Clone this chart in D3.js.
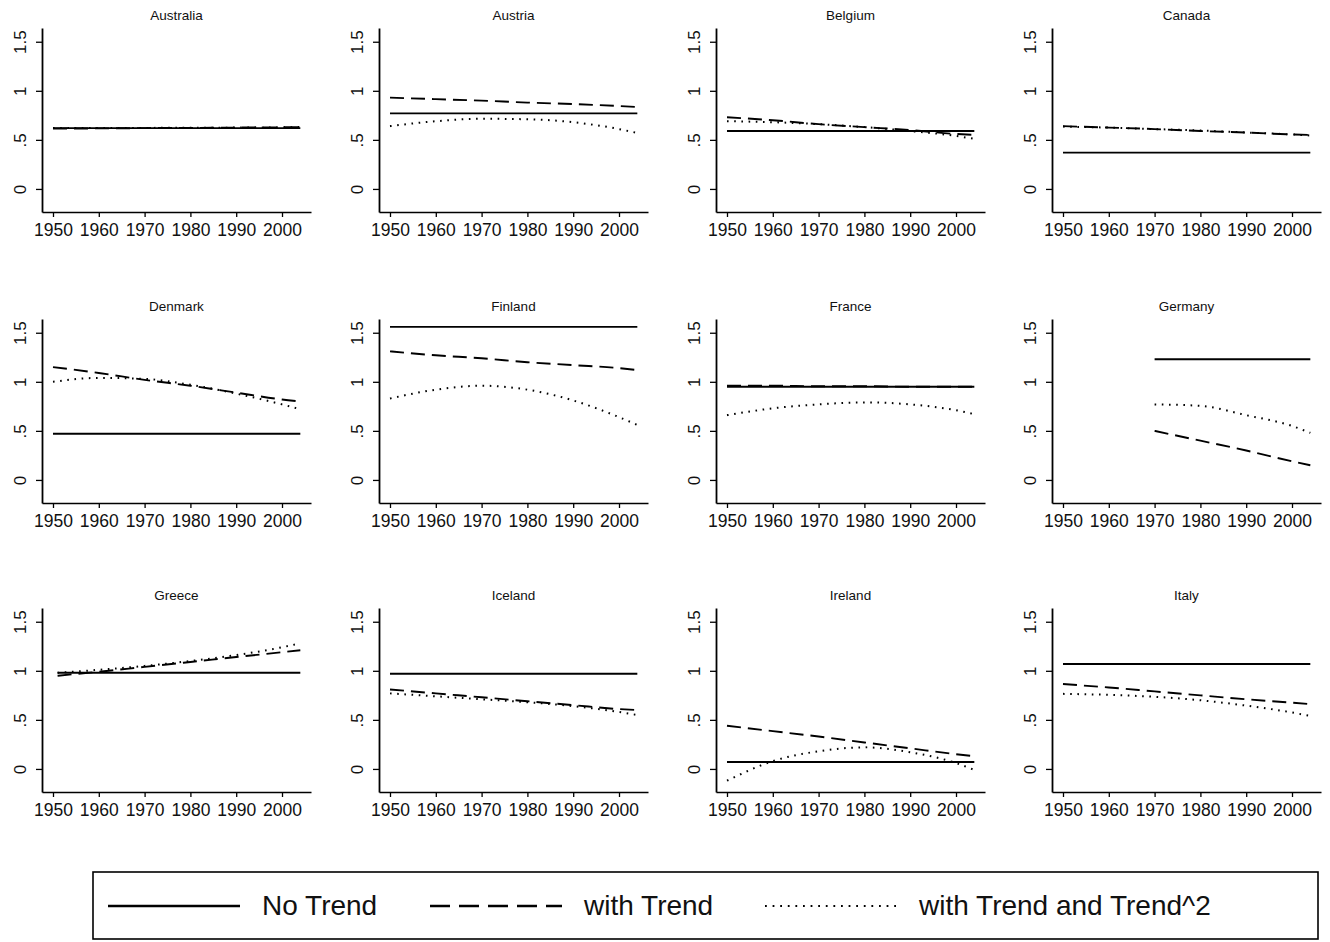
<!DOCTYPE html>
<html>
<head>
<meta charset="utf-8">
<script src="https://cdn.jsdelivr.net/npm/d3@7"></script>
<style>
  body { margin: 0; background: #fff; }
  svg { display: block; font-family: "Liberation Sans", Arial, Helvetica, sans-serif; }
</style>
</head>
<body>
<div id="chart"></div>
<script>
//panels
const countries = ["Australia", "Austria", "Belgium", "Canada",
  "Denmark", "Finland", "France", "Germany",
  "Greece", "Iceland", "Ireland", "Italy"];

//first year of each country's series
const startYears = [1950, 1950, 1950, 1950, 1950, 1950, 1950, 1970, 1951, 1950, 1950, 1950];
const baseYears = [1950, 1960, 1970, 1980, 1990, 2000, 2004];

//No Trend (flat)
const noTrend = [0.62, 0.77, 0.59, 0.37, 0.47, 1.56, 0.95, 1.23, 0.98, 0.97, 0.07, 1.07];

//with Trend
const withTrend = [
  [0.615, 0.617, 0.62, 0.622, 0.625, 0.628, 0.63],
  [0.93, 0.915, 0.90, 0.88, 0.865, 0.845, 0.835],
  [0.73, 0.70, 0.66, 0.63, 0.60, 0.56, 0.55],
  [0.64, 0.625, 0.61, 0.59, 0.575, 0.555, 0.55],
  [1.15, 1.09, 1.02, 0.96, 0.89, 0.82, 0.80],
  [1.31, 1.27, 1.24, 1.20, 1.17, 1.14, 1.12],
  [0.96, 0.96, 0.955, 0.955, 0.95, 0.95, 0.95],
  [0.50, 0.40, 0.30, 0.19, 0.15],
  [0.95, 0.99, 1.04, 1.09, 1.14, 1.19, 1.21],
  [0.81, 0.77, 0.73, 0.69, 0.65, 0.61, 0.60],
  [0.44, 0.385, 0.33, 0.27, 0.21, 0.15, 0.13],
  [0.865, 0.83, 0.79, 0.75, 0.71, 0.675, 0.66],
];

//with Trend and Trend^2
const withTrendSq = [
  [0.62, 0.62, 0.622, 0.623, 0.625, 0.628, 0.632],
  [0.64, 0.69, 0.715, 0.71, 0.68, 0.61, 0.57],
  [0.69, 0.68, 0.66, 0.63, 0.59, 0.54, 0.51],
  [0.635, 0.625, 0.61, 0.595, 0.575, 0.555, 0.545],
  [1.00, 1.04, 1.03, 0.97, 0.88, 0.77, 0.72],
  [0.83, 0.92, 0.96, 0.92, 0.81, 0.64, 0.56],
  [0.66, 0.73, 0.77, 0.79, 0.77, 0.71, 0.67],
  [0.77, 0.755, 0.66, 0.55, 0.48],
  [0.98, 1.01, 1.05, 1.10, 1.16, 1.24, 1.28],
  [0.77, 0.74, 0.71, 0.68, 0.64, 0.58, 0.55],
  [-0.12, 0.08, 0.18, 0.22, 0.17, 0.06, -0.01],
  [0.765, 0.755, 0.735, 0.70, 0.645, 0.575, 0.54],
];

const xTicks = [1950, 1960, 1970, 1980, 1990, 2000];
const yTicks = [0, 0.5, 1, 1.5];
const legendLabels = ["No Trend", "with Trend", "with Trend and Trend^2"];

//size
const width = 1330;
const height = 942;
const colLeft = [42, 379, 716, 1052];
const rowTop = [28, 319, 608];
const plotW = 269;
const plotH = 184;

const dashes = [null, "14,7", "1.6,5.6"];

const svg = d3.select("#chart").append("svg")
  .attr("width", width)
  .attr("height", height);

svg.append("rect").attr("width", width).attr("height", height).attr("fill", "#fff");

const yearsOf = (i) => [startYears[i], ...baseYears.filter((y) => y > startYears[i])];

countries.forEach((name, i) => {
  const left = colLeft[i % 4];
  const top = rowTop[Math.floor(i / 4)];

  const x = d3.scaleLinear().domain([1947.6, 2006.33]).range([0, plotW]);
  const y = d3.scaleLinear().domain([-0.235, 1.64]).range([plotH, 0]);

  const g = svg.append("g").attr("transform", `translate(${left},${top})`);

  //title
  g.append("text")
    .attr("x", plotW / 2)
    .attr("y", -8)
    .attr("text-anchor", "middle")
    .attr("font-size", 13.5)
    .attr("fill", "#111")
    .text(name);

  //y axis
  g.append("g")
    .call(d3.axisLeft(y).tickValues(yTicks).tickSize(6).tickSizeOuter(0)
      .tickFormat((d) => (d === 0 ? "0" : d < 1 ? String(d).replace("0.", ".") : String(d))))
    .call((a) => {
      a.select(".domain").attr("stroke-width", 1.8);
      a.selectAll(".tick line").attr("stroke-width", 1.3);
      a.selectAll(".tick text")
        .attr("x", 0).attr("dy", 0)
        .attr("transform", "translate(-16.5,0) rotate(-90)")
        .attr("text-anchor", "middle")
        .attr("font-size", 17)
        .attr("font-family", "Liberation Sans, Arial, sans-serif")
        .attr("fill", "#111");
    });

  //x axis
  g.append("g")
    .attr("transform", `translate(0,${plotH})`)
    .call(d3.axisBottom(x).tickValues(xTicks).tickSize(5).tickSizeOuter(0).tickFormat(d3.format("d")))
    .call((a) => {
      a.select(".domain").attr("stroke-width", 1.6);
      a.selectAll(".tick line").attr("stroke-width", 1.3);
      a.selectAll(".tick text")
        .attr("y", 24).attr("dy", 0)
        .attr("font-size", 17.5)
        .attr("font-family", "Liberation Sans, Arial, sans-serif")
        .attr("fill", "#111");
    });

  const yrs = yearsOf(i);
  const series = [
    [[yrs[0], noTrend[i]], [2004, noTrend[i]]],
    yrs.map((yr, k) => [yr, withTrend[i][k]]),
    yrs.map((yr, k) => [yr, withTrendSq[i][k]]),
  ];

  const line = d3.line()
    .x((d) => x(d[0]))
    .y((d) => y(d[1]))
    .curve(d3.curveMonotoneX);

  g.selectAll("path.series")
    .data(series)
    .join("path")
    .attr("class", "series")
    .attr("d", line)
    .attr("fill", "none")
    .attr("stroke", "#000")
    .attr("stroke-width", (d, k) => (k === 2 ? 2 : 1.9))
    .attr("stroke-dasharray", (d, k) => dashes[k]);
});

//legend
const legend = svg.append("g");
legend.append("rect")
  .attr("x", 93).attr("y", 872)
  .attr("width", 1225).attr("height", 67)
  .attr("fill", "none").attr("stroke", "#000").attr("stroke-width", 1.6);

const legendX = [108, 430, 765];
const legendDash = [null, "20,9", "1.8,5.8"];
legendLabels.forEach((label, k) => {
  legend.append("line")
    .attr("x1", legendX[k]).attr("x2", legendX[k] + 132)
    .attr("y1", 906).attr("y2", 906)
    .attr("stroke", "#000")
    .attr("stroke-width", k === 2 ? 1.8 : 2.6)
    .attr("stroke-dasharray", legendDash[k]);
  legend.append("text")
    .attr("x", legendX[k] + 154)
    .attr("y", 915)
    .attr("font-size", 28)
    .attr("fill", "#111")
    .text(label);
});
</script>
</body>
</html>
